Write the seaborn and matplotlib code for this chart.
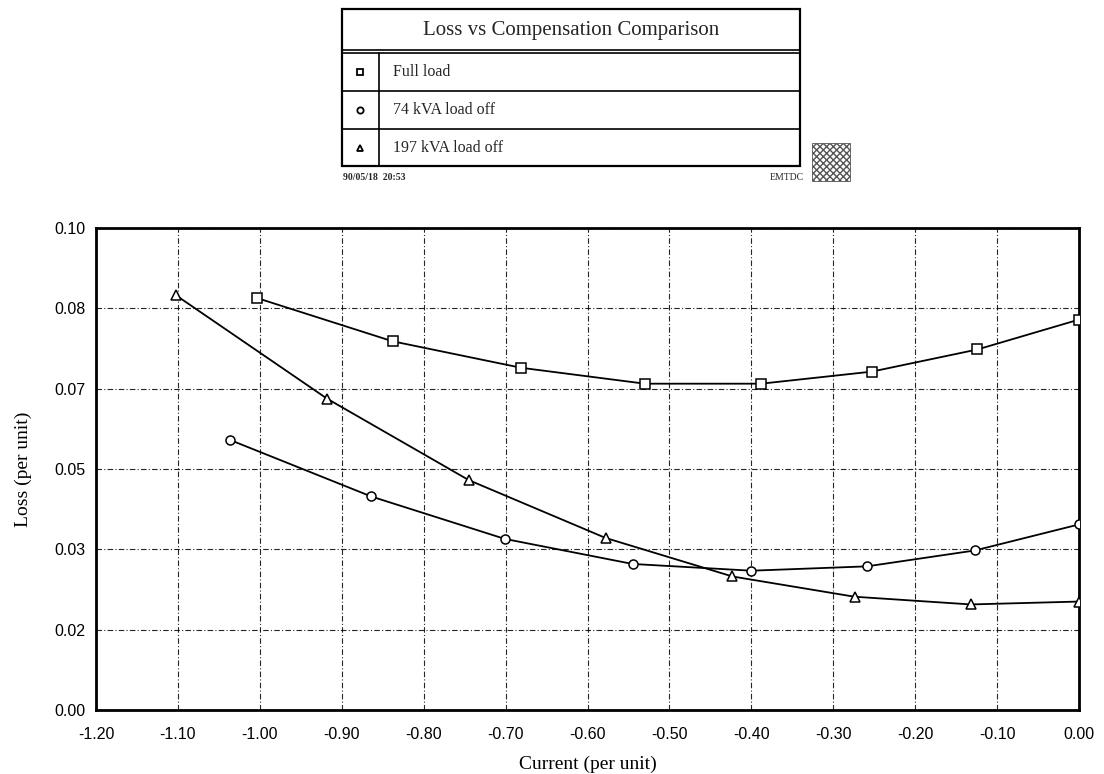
import matplotlib
matplotlib.use("Agg")
import matplotlib.pyplot as plt
from matplotlib.patches import Rectangle
from matplotlib.lines import Line2D
import seaborn as sns
import pandas as pd
import numpy as np

# ---- data ----
series_names = ["Full load", "74 kVA load off", "197 kVA load off"]
current_full = [-1.004, -0.838, -0.681, -0.530, -0.388, -0.253, -0.124, 0.0]
loss_full = [0.0855, 0.0765, 0.0710, 0.0677, 0.0677, 0.0702, 0.0748, 0.0810]
current_74 = [-1.036, -0.864, -0.701, -0.545, -0.400, -0.259, -0.127, 0.0]
loss_74 = [0.0560, 0.0443, 0.0355, 0.0303, 0.0289, 0.0298, 0.0331, 0.0385]
current_197 = [-1.102, -0.918, -0.745, -0.578, -0.423, -0.274, -0.132, 0.0]
loss_197 = [0.0860, 0.0646, 0.0477, 0.0357, 0.0277, 0.0235, 0.0219, 0.0225]
x_ticks = [-1.20, -1.10, -1.00, -0.90, -0.80, -0.70, -0.60, -0.50, -0.40, -0.30, -0.20, -0.10, 0.00]
y_ticks = [0.0, 1/60, 2/60, 3/60, 4/60, 5/60, 6/60]
y_tick_labels = ["0.00", "0.02", "0.03", "0.05", "0.07", "0.08", "0.10"]

df = pd.concat([
    pd.DataFrame({"current": current_full, "loss": loss_full, "series": series_names[0]}),
    pd.DataFrame({"current": current_74, "loss": loss_74, "series": series_names[1]}),
    pd.DataFrame({"current": current_197, "loss": loss_197, "series": series_names[2]}),
], ignore_index=True)

sns.set_theme(style="white")
plt.rcParams["font.family"] = ["Liberation Sans", "DejaVu Sans"]

W, H = 1104, 774
fig = plt.figure(figsize=(W / 100, H / 100), dpi=100)
fig.patch.set_facecolor("white")

def fx(px):
    return px / W

def fy(py):
    return 1 - py / H

ax_left, ax_right, ax_top, ax_bottom = 96, 1079, 228, 710
ax = fig.add_axes([fx(ax_left), fy(ax_bottom), fx(ax_right - ax_left), (ax_bottom - ax_top) / H])

markers = {series_names[0]: "s", series_names[1]: "o", series_names[2]: "^"}
sns.lineplot(data=df, x="current", y="loss", hue="series", style="series",
             markers=markers, dashes=False, palette=["black"] * 3, sort=False,
             markersize=6.5, markerfacecolor="white", markeredgecolor="black",
             markeredgewidth=1.1, linewidth=1.3, legend=False, ax=ax, zorder=3)

ax.set_xlim(-1.2, 0.0)
ax.set_ylim(0.0, 0.10)
ax.set_xticks(x_ticks)
ax.set_xticklabels([f"{v:.2f}" for v in x_ticks])
ax.set_yticks(y_ticks)
ax.set_yticklabels(y_tick_labels)
ax.tick_params(axis="both", direction="out", length=4, width=1.2, color="black",
               labelsize=11.5, labelcolor="black")
ax.tick_params(axis="x", pad=8)
ax.grid(True, color="black", linestyle=(0, (5, 2, 1, 2)), linewidth=0.8, alpha=0.85)
for sp in ax.spines.values():
    sp.set_visible(True)
    sp.set_color("black")
    sp.set_linewidth(2.0)
ax.set_xlabel("Current (per unit)", family=["Liberation Serif", "DejaVu Serif"],
              fontsize=14, color="black", labelpad=10)
ax.set_ylabel("Loss (per unit)", family=["Liberation Serif", "DejaVu Serif"],
              fontsize=14, color="black", labelpad=16)

# ---- title / legend box ----
bx0, bx1, by0, by1 = 342, 800, 9, 166
fig.add_artist(Rectangle((fx(bx0), fy(by1)), fx(bx1 - bx0), (by1 - by0) / H,
                         transform=fig.transFigure, fill=False, edgecolor="black", linewidth=1.6))
for yy, lw in [(50, 1.2), (53, 1.2), (91, 1.2), (129, 1.2)]:
    fig.add_artist(Line2D([fx(bx0), fx(bx1)], [fy(yy), fy(yy)], transform=fig.transFigure,
                          color="black", linewidth=lw))
fig.add_artist(Line2D([fx(379), fx(379)], [fy(53), fy(by1)], transform=fig.transFigure,
                      color="black", linewidth=1.2))
fig.text(fx((bx0 + bx1) / 2), fy(30), "Loss vs Compensation Comparison",
         family=["Liberation Serif", "DejaVu Serif"], fontsize=15, ha="center", va="center")
row_centers = [72, 110, 148]
for name, yc in zip(series_names, row_centers):
    fig.add_artist(Line2D([fx(360)], [fy(yc)], transform=fig.transFigure, marker=markers[name],
                          markersize=4.5, markerfacecolor="white", markeredgecolor="black",
                          markeredgewidth=1.3, linestyle="none"))
    fig.text(fx(393), fy(yc), name, family=["Liberation Serif", "DejaVu Serif"],
             fontsize=11.5, ha="left", va="center")
fig.text(fx(343), fy(177), "90/05/18  20:53", family=["Liberation Serif", "DejaVu Serif"],
         fontsize=7, fontweight="bold", ha="left", va="center")
fig.text(fx(804), fy(177), "EMTDC", family=["Liberation Serif", "DejaVu Serif"],
         fontsize=7, ha="right", va="center")
fig.add_artist(Rectangle((fx(812), fy(181)), fx(38), 38 / H, transform=fig.transFigure,
                         fill=False, edgecolor="#555555", hatch="xxxxx", linewidth=0.6))

fig.savefig("out.png", dpi=100, facecolor="white")
